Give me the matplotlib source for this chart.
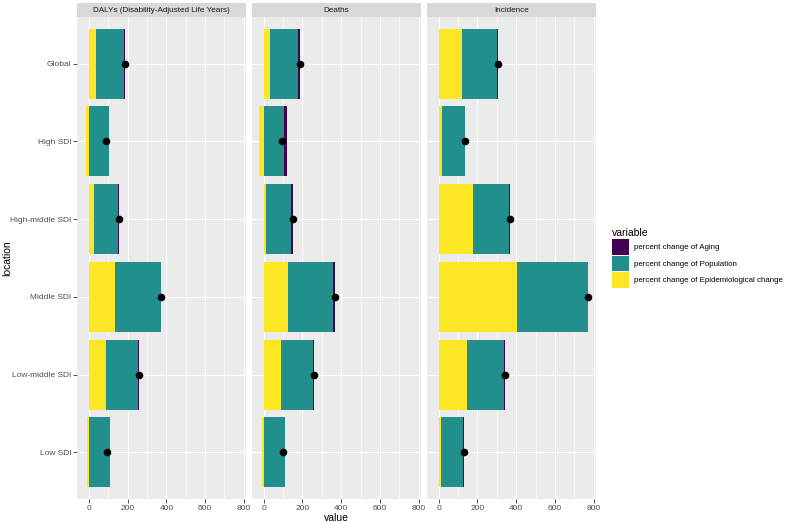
import matplotlib
matplotlib.use('Agg')
import matplotlib.pyplot as plt
from matplotlib.patches import Patch
from matplotlib.ticker import MultipleLocator

plt.rcParams['font.family'] = ['Liberation Sans', 'DejaVu Sans']

locations = ['Global', 'High SDI', 'High-middle SDI', 'Middle SDI', 'Low-middle SDI', 'Low SDI']
measures = ['DALYs (Disability-Adjusted Life Years)', 'Deaths', 'Incidence']
variables = ['percent change of Aging', 'percent change of Population',
             'percent change of Epidemiological change']
x_ticks = [0, 200, 400, 600, 800]

# values per location, top to bottom
dalys_aging = [3, 3, 2, 2, 2, 1]
dalys_population = [143, 102, 126, 236, 166, 106]
dalys_epi = [38, -18, 24, 136, 89, -12]

deaths_aging = [9, 12, 9, 12, 9, 2]
deaths_population = [147, 106, 129, 235, 166, 110]
deaths_epi = [31, -23, 11, 123, 87, -10]

incidence_aging = [3, 2, 5, 2, 4, 1]
incidence_population = [182, 119, 187, 366, 192, 116]
incidence_epi = [121, 17, 176, 404, 147, 12]

panels = [
    (dalys_aging, dalys_population, dalys_epi),
    (deaths_aging, deaths_population, deaths_epi),
    (incidence_aging, incidence_population, incidence_epi),
]
colors = ['#440154', '#21908C', '#FDE725']

W, H = 787, 522
fig = plt.figure(figsize=(W / 100, H / 100), dpi=100)


def px_axes(x0, y0, x1, y1):
    return fig.add_axes([x0 / W, 1 - y1 / H, (x1 - x0) / W, (y1 - y0) / H])


# shared x range with ggplot-like 5% expansion
lows, highs = [], []
for aging, pop, epi in panels:
    for i in range(len(locations)):
        vals = [epi[i], pop[i], aging[i]]
        lows.append(sum(v for v in vals if v < 0))
        highs.append(sum(v for v in vals if v > 0))
lo, hi = min(min(lows), 0), max(highs)
pad = (hi - lo) * 0.05
xlim = (lo - pad, hi + pad)

n = len(locations)
ypos = [n - i for i in range(n)]

panel_x = [(77, 246), (251.5, 421), (426.5, 596)]
for k, (aging, pop, epi) in enumerate(panels):
    x0, x1 = panel_x[k]
    ax = px_axes(x0, 17, x1, 499)
    ax.set_facecolor('#EBEBEB')
    for s in ax.spines.values():
        s.set_visible(False)

    for i in range(n):
        pos_left, neg_left = 0, 0
        # epi nearest zero, then population, then aging
        for v, c in zip([epi[i], pop[i], aging[i]], [colors[2], colors[1], colors[0]]):
            if v >= 0:
                ax.barh(ypos[i], v, left=pos_left, height=0.9, color=c, linewidth=0, zorder=2)
                pos_left += v
            else:
                ax.barh(ypos[i], v, left=neg_left, height=0.9, color=c, linewidth=0, zorder=2)
                neg_left += v
    totals = [a + p + e for a, p, e in zip(aging, pop, epi)]
    ax.scatter(totals, ypos, s=30, color='black', zorder=3, linewidths=0)

    ax.set_xlim(*xlim)
    ax.set_ylim(0.4, n + 0.6)
    ax.set_xticks(x_ticks)
    ax.xaxis.set_minor_locator(MultipleLocator(100))
    ax.set_yticks(ypos)
    ax.grid(which='major', color='white', linewidth=0.8, zorder=0)
    ax.grid(which='minor', axis='x', color='white', linewidth=0.4, zorder=0)
    ax.set_axisbelow(True)
    ax.tick_params(axis='both', which='major', length=2.6, width=0.6, color='#333333',
                   labelsize=6, labelcolor='#4D4D4D', pad=1.5)
    ax.tick_params(axis='x', which='minor', length=0)
    if k == 0:
        ax.set_yticklabels(locations)
    else:
        ax.set_yticklabels([])
        ax.tick_params(axis='y', length=0)

    strip = px_axes(x0, 3, x1, 17)
    strip.set_facecolor('#D9D9D9')
    strip.set_xticks([])
    strip.set_yticks([])
    for s in strip.spines.values():
        s.set_visible(False)
    strip.text(0.5, 0.5, measures[k], ha='center', va='center', fontsize=5.9,
               color='#1A1A1A', transform=strip.transAxes)

fig.text(336 / W, 1 - 518 / H, 'value', ha='center', va='center', fontsize=7.5)
fig.text(7 / W, 1 - 258 / H, 'location', ha='center', va='center', fontsize=7.5, rotation=90)

handles = [Patch(facecolor=c, edgecolor='none') for c in colors]
leg = fig.legend(handles, variables, loc='upper left', bbox_to_anchor=(609 / W, 1 - 225 / H),
                 frameon=False, fontsize=5.7, title='variable', title_fontsize=7.5,
                 handlelength=2.1, handleheight=2.6, labelspacing=0.15, handletextpad=0.6,
                 borderaxespad=0, alignment='left')

fig.savefig('out.png', dpi=100)
